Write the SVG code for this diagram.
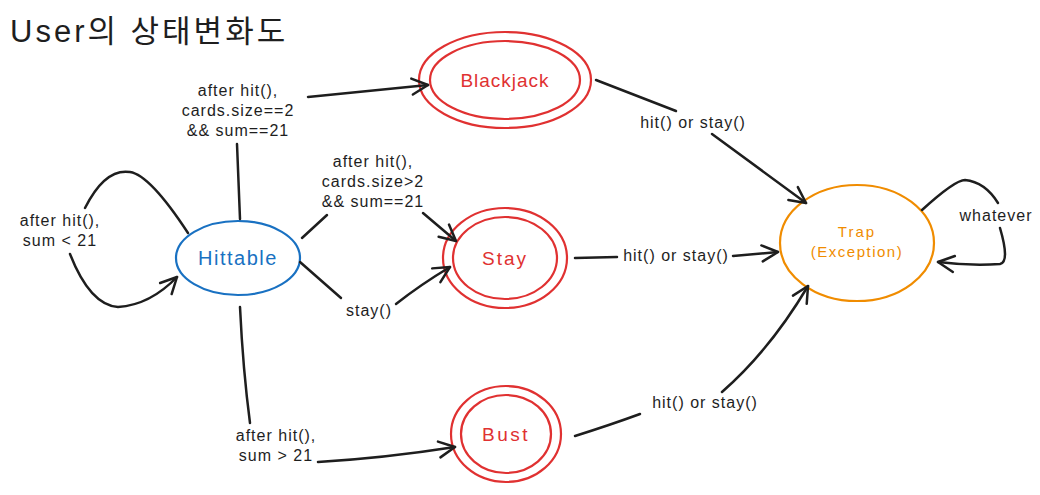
<svg xmlns="http://www.w3.org/2000/svg" width="1040" height="495" viewBox="0 0 1040 495">
<defs>
<marker id="ah" viewBox="0 0 20 20" refX="18" refY="10" markerWidth="20" markerHeight="20" markerUnits="userSpaceOnUse" orient="auto">
<path d="M2,2 L18,10 L2,18" fill="none" stroke="#1e1e1e" stroke-width="2.5" stroke-linecap="round" stroke-linejoin="round"/>
</marker>
</defs>
<style>
.t{font-family:"Liberation Sans","Noto Sans",sans-serif;font-size:16px;letter-spacing:1px;fill:#1e1e1e;text-anchor:middle}
.n{font-family:"Liberation Sans","Noto Sans",sans-serif;text-anchor:middle}
.e{fill:none;stroke:#1e1e1e;stroke-width:2.5;stroke-linecap:round;stroke-linejoin:round}
.r{fill:none;stroke:#e03131;stroke-width:2.2}
</style>
<rect width="1040" height="495" fill="#ffffff"/>
<text x="10" y="42" style="font-family:'Liberation Sans','Noto Sans CJK KR',sans-serif;font-size:31px;letter-spacing:3px;fill:#1e1e1e">User의 상태변화도</text>

<g id="hittable">
<ellipse cx="238" cy="258" rx="62" ry="37" fill="none" stroke="#1971c2" stroke-width="2.2"/>
<text class="n" x="238" y="265" style="font-size:20px;letter-spacing:1.5px;fill:#1971c2">Hittable</text>
</g>
<g id="blackjack">
<ellipse class="r" cx="505" cy="80" rx="86" ry="48"/>
<ellipse class="r" cx="505" cy="80" rx="75" ry="39"/>
<text class="n" x="505" y="87" style="font-size:19px;letter-spacing:1px;fill:#e03131">Blackjack</text>
</g>
<g id="stay">
<ellipse class="r" cx="505" cy="258" rx="62" ry="50"/>
<ellipse class="r" cx="505" cy="258" rx="52" ry="41"/>
<text class="n" x="505" y="265" style="font-size:19px;letter-spacing:2px;fill:#e03131">Stay</text>
</g>
<g id="bust">
<ellipse class="r" cx="506" cy="434" rx="55" ry="48"/>
<ellipse class="r" cx="506" cy="434" rx="45" ry="39"/>
<text class="n" x="506" y="441" style="font-size:19px;letter-spacing:2.5px;fill:#e03131">Bust</text>
</g>
<g id="trap">
<ellipse cx="857" cy="243" rx="77" ry="58" fill="none" stroke="#f08c00" stroke-width="2.2"/>
<text class="n" x="857" y="237" style="font-size:15px;letter-spacing:2px;fill:#f08c00">Trap</text>
<text class="n" x="857" y="257" style="font-size:15px;letter-spacing:1.5px;fill:#f08c00">(Exception)</text>
</g>

<g id="connectors">
<path class="e" d="M240,219 L237,144"/>
<path class="e" d="M308,97 L428,85" marker-end="url(#ah)"/>
<text class="t" x="238" y="96">after hit(),</text>
<text class="t" x="238" y="116">cards.size==2</text>
<text class="t" x="238" y="136">&amp;&amp; sum==21</text>

<path class="e" d="M302,238 L327,215"/>
<path class="e" d="M423,213 L456,241" marker-end="url(#ah)"/>
<text class="t" x="373" y="167">after hit(),</text>
<text class="t" x="373" y="187">cards.size&gt;2</text>
<text class="t" x="373" y="207">&amp;&amp; sum==21</text>

<path class="e" d="M300,262 L341,298"/>
<path class="e" d="M396,304 Q420,285 450,267" marker-end="url(#ah)"/>
<text class="t" x="369" y="316">stay()</text>

<path class="e" d="M188,233 Q150,175 130,172 Q105,168 85,208"/>
<path class="e" d="M70,254 Q90,305 118,307 Q150,305 177,277" marker-end="url(#ah)"/>
<text class="t" x="60" y="226">after hit(),</text>
<text class="t" x="60" y="246">sum &lt; 21</text>

<path class="e" d="M240,307 Q243,370 250,423"/>
<path class="e" d="M318,462 Q385,458 455,447" marker-end="url(#ah)"/>
<text class="t" x="276" y="441">after hit(),</text>
<text class="t" x="276" y="461">sum &gt; 21</text>

<path class="e" d="M596,80 L676,111"/>
<path class="e" d="M712,134 L806,203" marker-end="url(#ah)"/>
<text class="t" x="693" y="128">hit() or stay()</text>

<path class="e" d="M575,258 L617,257"/>
<path class="e" d="M733,256 L778,252" marker-end="url(#ah)"/>
<text class="t" x="676" y="261">hit() or stay()</text>

<path class="e" d="M575,436 Q610,425 640,414"/>
<path class="e" d="M722,392 Q770,350 808,286" marker-end="url(#ah)"/>
<text class="t" x="705" y="408">hit() or stay()</text>

<path class="e" d="M922,210 Q955,180 965,180 Q985,182 998,203"/>
<path class="e" d="M1000,228 Q1010,262 1000,264 Q970,266 938,262" marker-end="url(#ah)"/>
<text class="t" x="996" y="221">whatever</text>
</g>
</svg>
